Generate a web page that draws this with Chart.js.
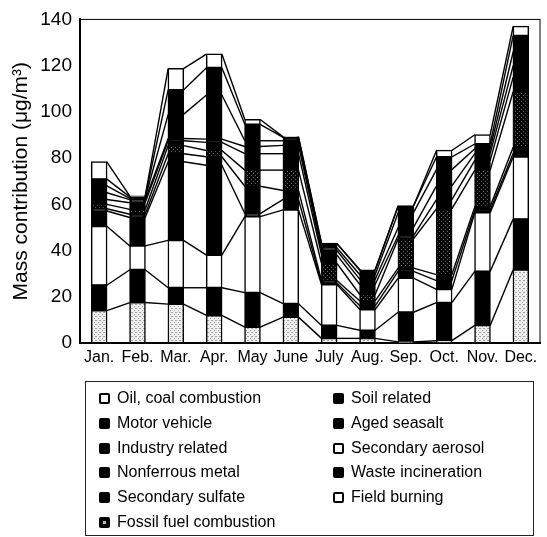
<!DOCTYPE html>
<html>
<head>
<meta charset="utf-8">
<script src="https://cdn.jsdelivr.net/npm/chart.js@4.4.0/dist/chart.umd.min.js"></script>
<style>
body { margin: 0; background: #fff; font-family: "Liberation Sans", Arial, sans-serif; }
#wrap { position: relative; width: 547px; height: 537px; }
#legend { position: absolute; left: 85px; top: 381px; width: 449px; height: 155px; border: 1px solid #222; box-sizing: border-box; }
.item { position: absolute; font-size: 16px; color: #000; line-height: 18px; white-space: nowrap; }
.box { display: inline-block; width: 11px; height: 11px; border: 2px solid #000; border-radius: 2px; margin-right: 7px; vertical-align: -1px; box-sizing: border-box; }
</style>
</head>
<body>
<div id="wrap">
  <canvas id="myChart" width="547" height="537"></canvas>
  <div id="legend"></div>
</div>
<script>
const months = ["Jan.", "Feb.", "Mar.", "Apr.", "May", "June", "July", "Aug.", "Sep.", "Oct.", "Nov.", "Dec."];

// stacked from the bottom up
const fieldBurning      = [14.0, 17.5, 16.8, 11.9, 6.9, 11.2, 2.0, 2.0, 0.5, 1.0, 7.6, 31.7];
const wasteIncineration = [11.0, 14.2, 7.1, 12.0, 14.9, 5.8, 5.6, 3.5, 12.8, 16.5, 23.4, 21.9];
const secondaryAerosol  = [25.5, 10.3, 20.5, 14.1, 32.9, 40.6, 17.7, 9.0, 14.8, 5.7, 25.4, 26.9];
const agedSeasalt       = [6.6, 12.3, 34.0, 38.9, 1.3, 4.5, 0.7, 1.6, 2.9, 3.8, 1.1, 1.5];
const soilRelated       = [1.0, 1.4, 3.5, 3.7, 11.8, 3.9, 1.0, 2.1, 1.4, 2.6, 1.5, 2.7];
const fossilFuel        = [1.9, 2.1, 3.5, 2.7, 7.0, 8.8, 7.5, 2.8, 12.7, 28.4, 15.8, 24.0];
const secondarySulfate  = [2.1, 2.9, 2.1, 3.5, 7.1, 7.1, 3.6, 4.3, 1.4, 4.0, 4.2, 6.3];
const nonferrousMetal   = [2.9, 1.3, 1.0, 1.4, 3.1, 3.6, 1.9, 2.2, 3.5, 6.0, 2.9, 5.0];
const industryRelated   = [3.0, 0.6, 10.4, 19.1, 2.5, 2.0, 1.2, 2.0, 6.4, 7.0, 2.1, 6.0];
const motorVehicle      = [2.9, 0.6, 10.6, 11.8, 7.1, 1.5, 1.8, 2.0, 2.9, 5.5, 2.1, 7.0];
const oilCoal           = [7.5, 0.3, 9.2, 5.9, 2.1, 0.2, 0.1, 0.2, 0.0, 2.8, 4.0, 4.0];

const yTicks = [0, 20, 40, 60, 80, 100, 120, 140];

const makeDots = (bg, dot, spots) => {
    const c = document.createElement("canvas");
    c.width = 4;
    c.height = 4;
    const g = c.getContext("2d");
    g.fillStyle = bg;
    g.fillRect(0, 0, 4, 4);
    g.fillStyle = dot;
    spots.forEach(([x, y]) => g.fillRect(x, y, 1, 1));
    return g.createPattern(c, "repeat");
};

const lightDots = makeDots("#f0f0f0", "#a0a0a0", [[0, 0], [2, 2], [3, 0]]);
const darkDots = makeDots("#050505", "#6a6a6a", [[1, 1], [3, 3]]);

const fills = {white: "#ffffff", black: "#000000", light: lightDots, dark: darkDots};

const sources = [
    {label: "Field burning", data: fieldBurning, fill: "light", key: "white"},
    {label: "Waste incineration", data: wasteIncineration, fill: "black", key: "black"},
    {label: "Secondary aerosol", data: secondaryAerosol, fill: "white", key: "white"},
    {label: "Aged seasalt", data: agedSeasalt, fill: "black", key: "black"},
    {label: "Soil related", data: soilRelated, fill: "black", key: "black"},
    {label: "Fossil fuel combustion", data: fossilFuel, fill: "dark", key: "dot"},
    {label: "Secondary sulfate", data: secondarySulfate, fill: "black", key: "black"},
    {label: "Nonferrous metal", data: nonferrousMetal, fill: "black", key: "black"},
    {label: "Industry related", data: industryRelated, fill: "black", key: "black"},
    {label: "Motor vehicle", data: motorVehicle, fill: "black", key: "black"},
    {label: "Oil, coal combustion", data: oilCoal, fill: "white", key: "white"},
];

const legendOrder = [
    "Oil, coal combustion", "Motor vehicle", "Industry related", "Nonferrous metal",
    "Secondary sulfate", "Fossil fuel combustion", "Soil related", "Aged seasalt",
    "Secondary aerosol", "Waste incineration", "Field burning",
];

// lines joining the top of each layer from one month to the next
const connectors = {
    id: "connectors",
    afterDatasetsDraw(chart) {
        const ctx = chart.ctx;
        ctx.save();
        ctx.strokeStyle = "#000";
        ctx.lineWidth = 1.4;
        chart.data.datasets.forEach((ds, d) => {
            const bars = chart.getDatasetMeta(d).data;
            for (let i = 0; i < bars.length - 1; i++) {
                const a = bars[i];
                const b = bars[i + 1];
                ctx.beginPath();
                ctx.moveTo(a.x + a.width / 2, a.y);
                ctx.lineTo(b.x - b.width / 2, b.y);
                ctx.stroke();
            }
        });
        const {left, top, right, bottom} = chart.chartArea;
        ctx.lineWidth = 1;
        ctx.strokeRect(left, top, right - left, bottom - top);
        ctx.restore();
    }
};

const font = "'Liberation Sans', Arial, sans-serif";

const datasets = sources.map((s) => ({
    label: s.label,
    data: s.data,
    backgroundColor: fills[s.fill],
    borderColor: "#000",
    borderWidth: 1.5,
    borderSkipped: false,
    inflateAmount: 0.6,
}));

const config = {
    type: "bar",
    data: {labels: months, datasets},
    options: {
        responsive: false,
        animation: false,
        categoryPercentage: 1,
        barPercentage: 0.4,
        layout: {padding: {left: 0, right: 7, top: 13, bottom: 164}},
        plugins: {legend: {display: false}, tooltip: {enabled: false}},
        scales: {
            x: {
                stacked: true,
                grid: {display: false, drawTicks: false},
                border: {display: true, color: "#000", width: 2},
                ticks: {color: "#000", font: {family: font, size: 16}, padding: 5, maxRotation: 0, autoSkip: false},
                afterFit: (s) => { s.height = 30; },
            },
            y: {
                stacked: true,
                min: 0,
                max: 140,
                afterBuildTicks: (s) => { s.ticks = yTicks.map((v) => ({value: v})); },
                grid: {display: false, drawTicks: false},
                border: {display: true, color: "#000", width: 2},
                ticks: {color: "#000", font: {family: font, size: 19}, padding: 8},
                title: {display: true, text: "Mass contribution (\u03bcg/m\u00b3)", color: "#000", font: {family: font, size: 21}, padding: {top: 9, bottom: 0}},
                afterFit: (s) => { s.width = 80; },
            },
        },
    },
    plugins: [connectors],
};

const myChart = new Chart(document.getElementById("myChart"), config);

// two-column legend in a box under the chart
const legend = document.getElementById("legend");
legendOrder.forEach((name, i) => {
    const src = sources.find((s) => s.label === name);
    const col = i < 6 ? 0 : 1;
    const row = i < 6 ? i : i - 6;
    const item = document.createElement("div");
    item.className = "item";
    item.style.left = (col === 0 ? 13 : 247) + "px";
    item.style.top = (7 + row * 24.8) + "px";
    const box = document.createElement("span");
    box.className = "box";
    if (src.key === "black") box.style.background = "#000";
    if (src.key === "white") box.style.background = "#fff";
    if (src.key === "dot") box.style.background = "radial-gradient(circle, #bbb 0 1.5px, #000 2px)";
    item.appendChild(box);
    item.appendChild(document.createTextNode(name));
    legend.appendChild(item);
});
</script>
</body>
</html>
